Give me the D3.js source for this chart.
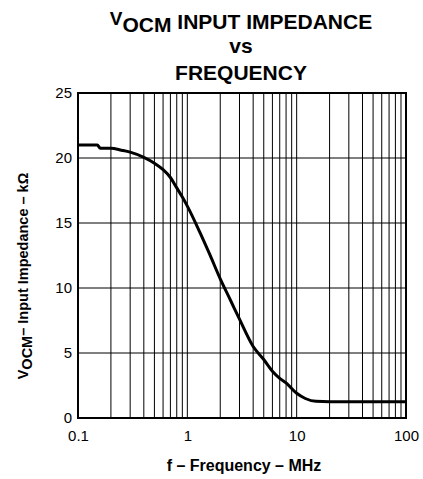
<!DOCTYPE html>
<html>
<head>
<meta charset="utf-8">
<script src="https://cdn.jsdelivr.net/npm/d3@7"></script>
<style>
  body { margin: 0; background: #fff; }
  svg text { font-family: 'Liberation Sans', Arial, sans-serif; fill: #000; }
</style>
</head>
<body>
<div id="chart"></div>
<script>
// frequency in MHz, impedance in kOhm
const freq = [0.1, 0.15, 0.16, 0.2, 0.25, 0.3, 0.4, 0.5, 0.6, 0.7, 0.8, 0.9, 1, 1.3, 1.6, 2, 2.5, 3, 4, 5, 6, 7, 8, 10, 12, 15, 20, 100];
const impedance = [21, 21, 20.75, 20.75, 20.6, 20.45, 20.05, 19.6, 19.1, 18.5, 17.7, 17.0, 16.3, 14.3, 12.6, 10.7, 9.0, 7.6, 5.5, 4.5, 3.6, 3.05, 2.7, 1.9, 1.5, 1.28, 1.25, 1.25];
const xTicks = [0.1, 1, 10, 100];
const yTicks = [0, 5, 10, 15, 20, 25];

const W = 423, H = 479;
const margin = { top: 93, right: 17, bottom: 61, left: 78 };
const w = W - margin.left - margin.right;
const h = H - margin.top - margin.bottom;

const svg = d3.select('#chart').append('svg')
  .attr('width', W)
  .attr('height', H);

/* ---------- title ---------- */
const title = svg.append('text')
  .attr('x', 241)
  .attr('y', 29)
  .attr('text-anchor', 'middle')
  .style('font-weight', 'bold')
  .style('font-size', '21px');
title.append('tspan').text('V').style('font-size', '19px').attr('dy', -4);
title.append('tspan').text('OCM').attr('dy', 6.5);
title.append('tspan').text(' INPUT IMPEDANCE').attr('dy', -2.5);

svg.append('text')
  .attr('x', 241).attr('y', 53)
  .attr('text-anchor', 'middle')
  .style('font-weight', 'bold')
  .style('font-size', '21px')
  .text('vs');

svg.append('text')
  .attr('x', 241).attr('y', 80)
  .attr('text-anchor', 'middle')
  .style('font-weight', 'bold')
  .style('font-size', '21px')
  .text('FREQUENCY');

/* ---------- scales ---------- */
const x = d3.scaleLog().domain([0.1, 100]).range([0, w]);
const y = d3.scaleLinear().domain([0, 25]).range([h, 0]);

const g = svg.append('g')
  .attr('transform', 'translate(' + margin.left + ',' + margin.top + ')');

/* ---------- grid ---------- */
const minor = [];
for (let dec = 0.1; dec < 100; dec *= 10) {
  for (let k = 2; k <= 9; k++) minor.push(+(dec * k).toPrecision(3));
}
const vLines = minor.concat([1, 10]);

g.append('g').attr('class', 'grid-x')
  .selectAll('line')
  .data(vLines)
  .enter().append('line')
  .attr('x1', d => x(d)).attr('x2', d => x(d))
  .attr('y1', 0).attr('y2', h)
  .style('stroke', '#000')
  .style('stroke-width', 1);

g.append('g').attr('class', 'grid-y')
  .selectAll('line')
  .data(yTicks.filter(d => d > 0 && d < 25))
  .enter().append('line')
  .attr('x1', 0).attr('x2', w)
  .attr('y1', d => y(d)).attr('y2', d => y(d))
  .style('stroke', '#000')
  .style('stroke-width', 1);

/* ---------- axes ---------- */
g.append('g')
  .attr('class', 'axis axis--x')
  .attr('transform', 'translate(0,' + h + ')')
  .call(d3.axisBottom(x).tickValues(xTicks).tickSize(0).tickPadding(12)
    .tickFormat(d => d3.format('~g')(d)))
  .call(a => a.select('.domain').remove())
  .selectAll('text')
  .style('font-size', '15px')
  .attr('fill', '#000');

g.append('g')
  .attr('class', 'axis axis--y')
  .call(d3.axisLeft(y).tickValues(yTicks).tickSize(0).tickPadding(6))
  .call(a => a.select('.domain').remove())
  .selectAll('text')
  .style('font-size', '15px')
  .attr('fill', '#000');

// frame
g.append('rect')
  .attr('x', 0).attr('y', 0)
  .attr('width', w).attr('height', h)
  .style('fill', 'none')
  .style('stroke', '#000')
  .style('stroke-width', 2);

/* ---------- curve ---------- */
const data = freq.map((f, i) => ({ f: f, v: impedance[i] }));
const line = d3.line()
  .x(d => x(d.f))
  .y(d => y(d.v))
  .curve(d3.curveMonotoneX);

g.append('path')
  .datum(data)
  .attr('d', line)
  .style('fill', 'none')
  .style('stroke', '#000')
  .style('stroke-width', 3)
  .style('stroke-linejoin', 'round');

/* ---------- axis titles ---------- */
svg.append('text')
  .attr('x', 244).attr('y', 471)
  .attr('text-anchor', 'middle')
  .style('font-weight', 'bold')
  .style('font-size', '16px')
  .text('f \u2013 Frequency \u2013 MHz');

const yl = svg.append('text')
  .attr('transform', 'translate(28,276) rotate(-90)')
  .attr('text-anchor', 'middle')
  .style('font-weight', 'bold')
  .style('font-size', '14.5px');
yl.append('tspan').text('V');
yl.append('tspan').text('OCM').attr('dy', 4);
yl.append('tspan').text('\u2013 Input Impedance \u2013 k\u03A9').attr('dy', -4);
</script>
</body>
</html>
